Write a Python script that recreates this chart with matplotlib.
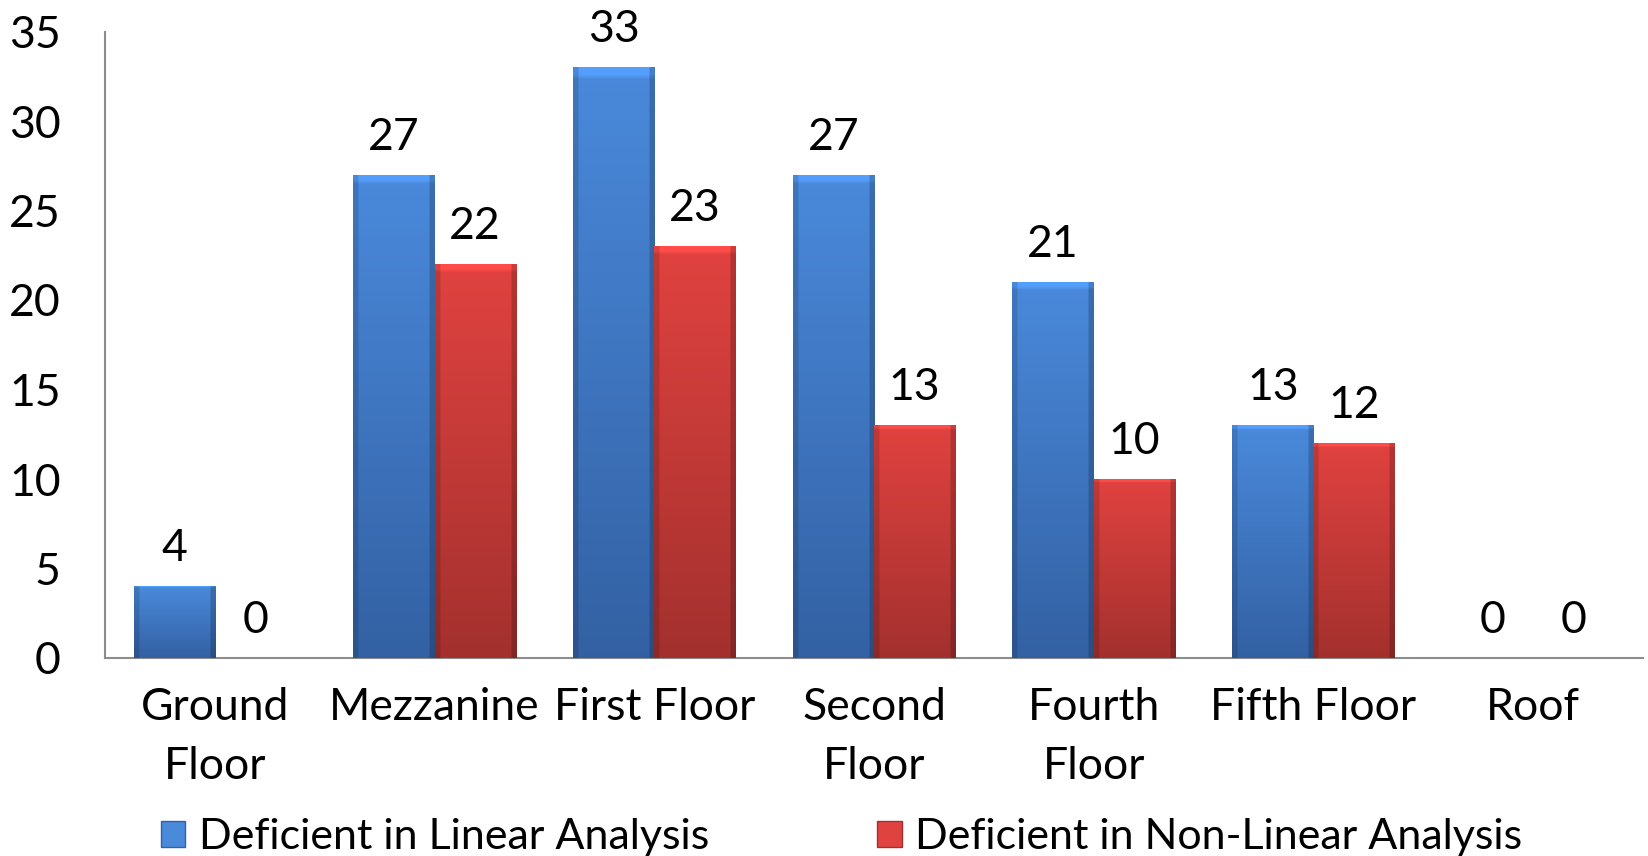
import numpy as np
import matplotlib
matplotlib.use("Agg")
import matplotlib.pyplot as plt
from matplotlib.patches import Patch

floors = ["Ground\nFloor", "Mezzanine", "First Floor", "Second\nFloor",
          "Fourth\nFloor", "Fifth Floor", "Roof"]
linear = [4, 27, 33, 27, 21, 13, 0]
nonlinear = [0, 22, 23, 13, 10, 12, 0]
series_names = ["Deficient in Linear Analysis", "Deficient in Non-Linear Analysis"]

# top / bottom shade of the gradient for each series
blue_top, blue_bot = np.array([0.29, 0.54, 0.86]), np.array([0.20, 0.38, 0.64])
red_top, red_bot = np.array([0.88, 0.26, 0.25]), np.array([0.64, 0.19, 0.18])

plt.rcParams['font.family'] = ['Lato', 'DejaVu Sans']
FS = 32

fig = plt.figure(figsize=(16.49, 8.56), dpi=100)
ax = fig.add_axes([105 / 1649, 1 - 658 / 856, 1538 / 1649, (658 - 31.5) / 856])

x = np.arange(len(floors))
w = 0.37


def gradient_fill(bars, top, bot):
    rows, cols = 120, 60
    t = np.linspace(0, 1, rows)[:, None, None]
    img = top * (1 - t) + bot * t
    img = np.repeat(img, cols, axis=1)
    u = np.linspace(0, 1, cols)
    edge = np.ones(cols)
    edge[u < 0.06] = 0.86
    edge[u > 0.94] = 0.80
    img = img * edge[None, :, None]
    img[:2] = np.clip(img[:2] * 1.15, 0, 1)
    for b in bars:
        h = b.get_height()
        if h <= 0:
            continue
        x0 = b.get_x()
        im = ax.imshow(np.clip(img, 0, 1), extent=[x0, x0 + b.get_width(), 0, h],
                       aspect='auto', interpolation='bilinear', zorder=3)
        im.set_clip_path(b)


b1 = ax.bar(x - w / 2, linear, w, color=blue_bot, edgecolor='none', zorder=2)
b2 = ax.bar(x + w / 2, nonlinear, w, color=red_bot, edgecolor='none', zorder=2)
gradient_fill(b1, blue_top, blue_bot)
gradient_fill(b2, red_top, red_bot)

for bars, vals in ((b1, linear), (b2, nonlinear)):
    for b, v in zip(bars, vals):
        ax.annotate(str(v), (b.get_x() + b.get_width() / 2, v),
                    xytext=(0, 27), textcoords='offset points',
                    ha='center', va='center', fontsize=FS)

ax.set_xlim(-0.5, len(floors) - 0.5)
ax.set_ylim(0, 35)
ax.set_yticks(range(0, 36, 5))
ax.set_xticks(x)
ax.set_xticklabels(floors, linespacing=1.55)
ax.tick_params(axis='y', length=0, pad=32, labelsize=FS)
ax.tick_params(axis='x', length=0, pad=21, labelsize=FS)
for side in ('top', 'right'):
    ax.spines[side].set_visible(False)
for side in ('left', 'bottom'):
    ax.spines[side].set_color('#8c8c8c')
    ax.spines[side].set_linewidth(1.5)

handles = [Patch(facecolor=blue_top, edgecolor=blue_bot),
           Patch(facecolor=red_top, edgecolor=red_bot)]
fig.legend(handles, series_names, loc='center', bbox_to_anchor=(0.5103, 1 - 837 / 856),
           ncol=2, frameon=False, fontsize=31, handlelength=0.57, handleheight=0.57,
           handletextpad=0.32, columnspacing=3.9, borderpad=0)

fig.savefig("out.png", dpi=100)
